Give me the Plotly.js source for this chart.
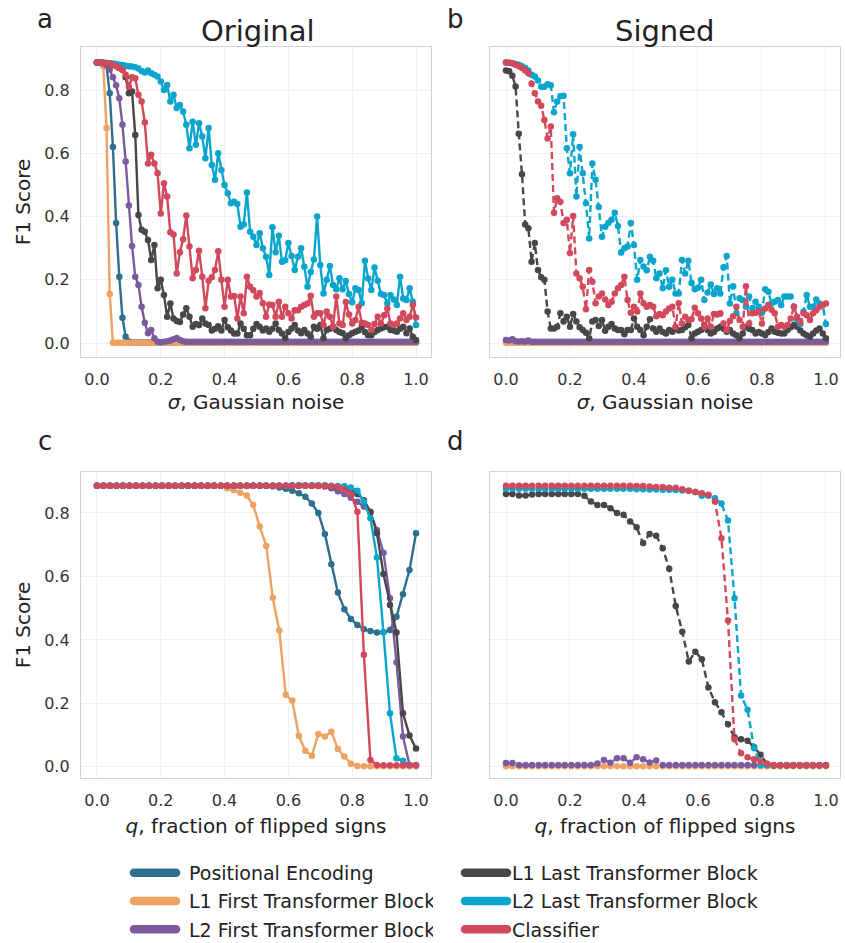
<!DOCTYPE html>
<html><head><meta charset="utf-8">
<script src="https://cdn.plot.ly/plotly-3.0.1.min.js"></script>
<style>html,body{margin:0;padding:0;background:#fff;} .infolayer path.js-line{stroke-linecap:round;}</style>
</head><body><div id="chart" style="width:845px;height:943px;"></div>
<script>
// ---------- DATA ----------
const sigma = [0,0.01,0.02,0.03,0.04,0.05,0.06,0.07,0.08,0.09,
0.1,0.11,0.12,0.13,0.14,0.15,0.16,0.17,0.18,0.19,
0.2,0.21,0.22,0.23,0.24,0.25,0.26,0.27,0.28,0.29,
0.3,0.31,0.32,0.33,0.34,0.35,0.36,0.37,0.38,0.39,
0.4,0.41,0.42,0.43,0.44,0.45,0.46,0.47,0.48,0.49,
0.5,0.51,0.52,0.53,0.54,0.55,0.56,0.57,0.58,0.59,
0.6,0.61,0.62,0.63,0.64,0.65,0.66,0.67,0.68,0.69,
0.7,0.71,0.72,0.73,0.74,0.75,0.76,0.77,0.78,0.79,
0.8,0.81,0.82,0.83,0.84,0.85,0.86,0.87,0.88,0.89,
0.9,0.91,0.92,0.93,0.94,0.95,0.96,0.97,0.98,0.99,1.0];

const qFrac = [0,0.0204,0.0408,0.0612,0.0816,0.102,0.1224,0.1429,0.1633,0.1837,
0.2041,0.2245,0.2449,0.2653,0.2857,0.3061,0.3265,0.3469,0.3673,0.3878,
0.4082,0.4286,0.449,0.4694,0.4898,0.5102,0.5306,0.551,0.5714,0.5918,
0.6122,0.6327,0.6531,0.6735,0.6939,0.7143,0.7347,0.7551,0.7755,0.7959,
0.8163,0.8367,0.8571,0.8776,0.898,0.9184,0.9388,0.9592,0.9796,1.0];

const seriesNames = ["Positional Encoding","L1 First Transformer Block","L2 First Transformer Block",
  "L1 Last Transformer Block","L2 Last Transformer Block","Classifier"];

// Panel a: Original, Gaussian noise
const origNoisePE = [0.887,0.887,0.886,0.875,0.79,0.62,0.38,0.21,0.08,0.02,
0.005,0.002,0.002,0.002,0.002,0.002,0.002,0.002,0.002,0.002,
0.002,0.002,0.002,0.002,0.002,0.002,0.002,0.002,0.002,0.002,
0.002,0.002,0.002,0.002,0.002,0.002,0.002,0.002,0.002,0.002,
0.002,0.002,0.002,0.002,0.002,0.002,0.002,0.002,0.002,0.002,
0.002,0.002,0.002,0.002,0.002,0.002,0.002,0.002,0.002,0.002,
0.002,0.002,0.002,0.002,0.002,0.002,0.002,0.002,0.002,0.002,
0.002,0.002,0.002,0.002,0.002,0.002,0.002,0.002,0.002,0.002,
0.002,0.002,0.002,0.002,0.002,0.002,0.002,0.002,0.002,0.002,
0.002,0.002,0.002,0.002,0.002,0.002,0.002,0.002,0.002,0.002,0.002];
const origNoiseL1First = [0.887,0.886,0.875,0.68,0.155,0.001,0.001,0.001,0.001,0.001,
0.001,0.001,0.001,0.001,0.001,0.001,0.001,0.001,0.001,0.001,
0.001,0.001,0.001,0.001,0.001,0.001,0.001,0.001,0.001,0.001,
0.001,0.001,0.001,0.001,0.001,0.001,0.001,0.001,0.001,0.001,
0.001,0.001,0.001,0.001,0.001,0.001,0.001,0.001,0.001,0.001,
0.001,0.001,0.001,0.001,0.001,0.001,0.001,0.001,0.001,0.001,
0.001,0.001,0.001,0.001,0.001,0.001,0.001,0.001,0.001,0.001,
0.001,0.001,0.001,0.001,0.001,0.001,0.001,0.001,0.001,0.001,
0.001,0.001,0.001,0.001,0.001,0.001,0.001,0.001,0.001,0.001,
0.001,0.001,0.001,0.001,0.001,0.001,0.001,0.001,0.001,0.001,0.001];
const origNoiseL2First = [0.887,0.886,0.884,0.878,0.865,0.84,0.815,0.774,0.69,0.574,
0.435,0.307,0.21,0.184,0.115,0.064,0.031,0.041,0.015,0.004,
0.003,0.004,0.006,0.008,0.012,0.016,0.01,0.006,0.004,0.004,
0.004,0.004,0.004,0.004,0.004,0.004,0.004,0.004,0.004,0.004,
0.004,0.004,0.004,0.004,0.004,0.004,0.004,0.004,0.004,0.004,
0.004,0.004,0.004,0.004,0.004,0.004,0.004,0.004,0.004,0.004,
0.004,0.004,0.004,0.004,0.004,0.004,0.004,0.004,0.004,0.004,
0.004,0.004,0.004,0.004,0.004,0.004,0.004,0.004,0.004,0.004,
0.004,0.004,0.004,0.004,0.004,0.004,0.004,0.004,0.004,0.004,
0.004,0.004,0.004,0.004,0.004,0.004,0.004,0.004,0.004,0.004,0.004];
const origNoiseL1Last = [0.887,0.887,0.886,0.885,0.883,0.88,0.876,0.87,0.864,0.84,
0.79,0.795,0.658,0.405,0.358,0.352,0.326,0.263,0.31,0.173,
0.2,0.152,0.083,0.125,0.078,0.07,0.067,0.09,0.11,0.083,
0.052,0.06,0.057,0.078,0.062,0.057,0.04,0.045,0.053,0.04,
0.073,0.05,0.04,0.03,0.03,0.062,0.045,0.025,0.025,0.045,
0.06,0.052,0.04,0.046,0.036,0.045,0.062,0.041,0.03,0.015,
0.035,0.046,0.057,0.04,0.031,0.041,0.03,0.02,0.052,0.045,
0.057,0.015,0.041,0.045,0.052,0.041,0.035,0.031,0.015,0.025,
0.031,0.036,0.04,0.052,0.035,0.025,0.025,0.035,0.041,0.046,
0.05,0.052,0.041,0.04,0.036,0.045,0.052,0.031,0.046,0.02,0.01];
const origNoiseL2Last = [0.887,0.887,0.886,0.886,0.885,0.884,0.882,0.88,0.879,0.877,
0.875,0.874,0.872,0.868,0.86,0.855,0.862,0.853,0.848,0.843,
0.827,0.8,0.816,0.764,0.785,0.743,0.753,0.732,0.69,0.616,
0.7,0.627,0.695,0.653,0.584,0.68,0.563,0.516,0.6,0.547,
0.5,0.474,0.442,0.447,0.44,0.368,0.375,0.476,0.352,0.336,
0.31,0.347,0.3,0.273,0.215,0.366,0.287,0.339,0.257,0.262,
0.316,0.275,0.231,0.273,0.3,0.241,0.178,0.225,0.264,0.4,
0.247,0.157,0.2,0.244,0.184,0.17,0.205,0.17,0.196,0.155,
0.129,0.173,0.168,0.126,0.26,0.204,0.168,0.239,0.197,0.155,
0.152,0.125,0.152,0.138,0.12,0.21,0.141,0.136,0.173,0.131,0.057];
const origNoiseClassifier = [0.887,0.887,0.886,0.885,0.884,0.88,0.875,0.87,0.864,0.848,
0.81,0.84,0.837,0.785,0.764,0.697,0.568,0.595,0.568,0.537,
0.41,0.505,0.463,0.35,0.343,0.22,0.287,0.328,0.403,0.305,
0.205,0.231,0.292,0.21,0.11,0.197,0.208,0.231,0.29,0.2,
0.115,0.2,0.147,0.149,0.078,0.147,0.094,0.21,0.178,0.167,
0.147,0.158,0.126,0.083,0.122,0.12,0.083,0.131,0.083,0.115,
0.094,0.078,0.104,0.104,0.115,0.12,0.125,0.15,0.083,0.094,
0.094,0.057,0.1,0.083,0.052,0.147,0.062,0.057,0.13,0.09,
0.062,0.073,0.115,0.064,0.062,0.057,0.041,0.06,0.083,0.062,
0.088,0.109,0.062,0.057,0.062,0.078,0.094,0.073,0.083,0.12,0.081];

// Panel b: Signed, Gaussian noise
const signNoiseL1First = [0.001,0.001,0.001,0.001,0.001,0.001,0.001,0.001,0.001,0.001,
0.001,0.001,0.001,0.001,0.001,0.001,0.001,0.001,0.001,0.001,
0.001,0.001,0.001,0.001,0.001,0.001,0.001,0.001,0.001,0.001,
0.001,0.001,0.001,0.001,0.001,0.001,0.001,0.001,0.001,0.001,
0.001,0.001,0.001,0.001,0.001,0.001,0.001,0.001,0.001,0.001,
0.001,0.001,0.001,0.001,0.001,0.001,0.001,0.001,0.001,0.001,
0.001,0.001,0.001,0.001,0.001,0.001,0.001,0.001,0.001,0.001,
0.001,0.001,0.001,0.001,0.001,0.001,0.001,0.001,0.001,0.001,
0.001,0.001,0.001,0.001,0.001,0.001,0.001,0.001,0.001,0.001,
0.001,0.001,0.001,0.001,0.001,0.001,0.001,0.001,0.001,0.001,0.001];
const signNoiseL2First = [0.01,0.008,0.012,0.006,0.005,0.006,0.005,0.008,0.004,0.004,
0.004,0.004,0.004,0.004,0.004,0.004,0.004,0.004,0.004,0.004,
0.004,0.004,0.004,0.004,0.004,0.004,0.004,0.004,0.004,0.004,
0.004,0.004,0.004,0.004,0.004,0.004,0.004,0.004,0.004,0.004,
0.004,0.004,0.004,0.004,0.004,0.004,0.004,0.004,0.004,0.004,
0.004,0.004,0.004,0.004,0.004,0.004,0.004,0.004,0.004,0.004,
0.004,0.004,0.004,0.004,0.004,0.004,0.004,0.004,0.004,0.004,
0.004,0.004,0.004,0.004,0.004,0.004,0.004,0.004,0.004,0.004,
0.004,0.004,0.004,0.004,0.004,0.004,0.004,0.004,0.004,0.004,
0.004,0.004,0.004,0.004,0.004,0.004,0.004,0.004,0.004,0.004,0.004];
const signNoiseL1Last = [0.862,0.859,0.845,0.811,0.662,0.534,0.375,0.363,0.257,0.316,
0.231,0.208,0.2,0.1,0.046,0.046,0.052,0.094,0.068,0.083,
0.052,0.092,0.068,0.05,0.041,0.033,0.015,0.068,0.073,0.054,
0.073,0.039,0.052,0.06,0.046,0.041,0.041,0.028,0.041,0.041,
0.078,0.052,0.041,0.025,0.052,0.075,0.046,0.036,0.046,0.035,
0.03,0.041,0.036,0.046,0.04,0.041,0.05,0.057,0.015,0.03,
0.036,0.041,0.057,0.041,0.03,0.035,0.046,0.052,0.045,0.036,
0.041,0.03,0.025,0.015,0.03,0.052,0.045,0.041,0.03,0.035,
0.03,0.025,0.035,0.046,0.036,0.033,0.03,0.03,0.041,0.05,
0.057,0.052,0.04,0.03,0.025,0.02,0.03,0.04,0.046,0.03,0.015];
const signNoiseL2Last = [0.887,0.886,0.885,0.882,0.88,0.875,0.87,0.862,0.848,0.843,
0.83,0.81,0.81,0.818,0.815,0.73,0.764,0.78,0.782,0.616,
0.537,0.66,0.463,0.62,0.537,0.442,0.331,0.568,0.516,0.43,
0.336,0.368,0.38,0.39,0.412,0.37,0.286,0.3,0.305,0.38,
0.31,0.2,0.263,0.242,0.23,0.273,0.26,0.205,0.22,0.173,
0.23,0.178,0.2,0.157,0.157,0.263,0.22,0.26,0.19,0.17,
0.175,0.2,0.136,0.16,0.185,0.155,0.173,0.157,0.24,0.275,
0.125,0.18,0.094,0.142,0.136,0.115,0.147,0.11,0.131,0.115,
0.096,0.17,0.162,0.125,0.131,0.136,0.12,0.147,0.147,0.147,
0.115,0.073,0.06,0.1,0.152,0.115,0.115,0.138,0.125,0.12,0.06];
const signNoiseClassifier = [0.887,0.886,0.885,0.88,0.875,0.87,0.862,0.853,0.82,0.79,
0.764,0.75,0.705,0.647,0.685,0.412,0.458,0.447,0.38,0.39,
0.284,0.402,0.22,0.205,0.178,0.107,0.231,0.194,0.126,0.147,
0.157,0.138,0.12,0.131,0.157,0.173,0.184,0.21,0.136,0.096,
0.115,0.1,0.157,0.126,0.115,0.12,0.115,0.085,0.092,0.088,
0.1,0.109,0.115,0.052,0.126,0.062,0.083,0.073,0.075,0.112,
0.094,0.078,0.052,0.078,0.052,0.092,0.09,0.094,0.062,0.041,
0.07,0.085,0.115,0.073,0.052,0.18,0.062,0.094,0.096,0.1,
0.062,0.109,0.12,0.105,0.094,0.052,0.057,0.052,0.057,0.078,
0.115,0.083,0.067,0.094,0.088,0.073,0.094,0.104,0.115,0.12,0.125];

// Panel c: Original, flipped signs
const origFlipPE = [0.886,0.886,0.886,0.886,0.886,0.886,0.886,0.886,0.886,0.886,
0.886,0.886,0.886,0.886,0.886,0.886,0.886,0.886,0.886,0.886,
0.886,0.886,0.886,0.886,0.886,0.886,0.886,0.884,0.88,0.876,
0.87,0.862,0.851,0.83,0.8,0.734,0.638,0.549,0.497,0.466,
0.447,0.434,0.428,0.423,0.424,0.431,0.473,0.544,0.62,0.736];
const origFlipL1First = [0.886,0.886,0.886,0.886,0.886,0.886,0.886,0.886,0.886,0.886,
0.886,0.886,0.886,0.886,0.886,0.886,0.886,0.886,0.886,0.886,
0.878,0.872,0.864,0.855,0.825,0.757,0.696,0.533,0.43,0.227,
0.209,0.098,0.051,0.035,0.104,0.096,0.111,0.056,0.033,0.01,
0.003,0.002,0.002,0.002,0.002,0.002,0.002,0.002,0.002,0.002];
const origFlipL2First = [0.886,0.886,0.886,0.886,0.886,0.886,0.886,0.886,0.886,0.886,
0.886,0.886,0.886,0.886,0.886,0.886,0.886,0.886,0.886,0.886,
0.886,0.886,0.886,0.886,0.886,0.886,0.886,0.886,0.886,0.886,
0.886,0.886,0.886,0.886,0.885,0.883,0.878,0.868,0.86,0.848,
0.835,0.82,0.8,0.746,0.675,0.531,0.33,0.096,0.006,0.005];
const origFlipL1Last = [0.886,0.886,0.886,0.886,0.886,0.886,0.886,0.886,0.886,0.886,
0.886,0.886,0.886,0.886,0.886,0.886,0.886,0.886,0.886,0.886,
0.886,0.886,0.886,0.886,0.886,0.886,0.886,0.886,0.886,0.886,
0.886,0.886,0.886,0.886,0.886,0.885,0.884,0.882,0.878,0.872,
0.86,0.84,0.804,0.736,0.608,0.51,0.423,0.169,0.099,0.058];
const origFlipL2Last = [0.886,0.886,0.886,0.886,0.886,0.886,0.886,0.886,0.886,0.886,
0.886,0.886,0.886,0.886,0.886,0.886,0.886,0.886,0.886,0.886,
0.886,0.886,0.886,0.886,0.886,0.886,0.886,0.886,0.886,0.886,
0.887,0.887,0.887,0.887,0.887,0.887,0.886,0.885,0.884,0.88,
0.87,0.836,0.783,0.66,0.424,0.169,0.027,0.019,0.006,0.006];
const origFlipClassifier = [0.886,0.886,0.886,0.886,0.886,0.886,0.886,0.886,0.886,0.886,
0.886,0.886,0.886,0.886,0.886,0.886,0.886,0.886,0.886,0.886,
0.886,0.886,0.886,0.886,0.886,0.886,0.886,0.886,0.886,0.886,
0.886,0.886,0.886,0.886,0.886,0.886,0.885,0.882,0.875,0.86,
0.804,0.353,0.022,0.006,0.005,0.005,0.005,0.005,0.005,0.005];

// Panel d: Signed, flipped signs
const signFlipL1First = [0.002,0.002,0.002,0.002,0.002,0.002,0.002,0.002,0.002,0.002,
0.002,0.002,0.002,0.002,0.002,0.002,0.002,0.002,0.002,0.002,
0.002,0.002,0.002,0.002,0.002,0.002,0.002,0.002,0.002,0.002,
0.002,0.002,0.002,0.002,0.002,0.002,0.002,0.002,0.002,0.002,
0.002,0.002,0.002,0.002,0.002,0.002,0.002,0.002,0.002,0.002];
const signFlipL2First = [0.012,0.012,0.006,0.006,0.006,0.006,0.006,0.006,0.006,0.006,
0.006,0.006,0.006,0.006,0.011,0.022,0.013,0.027,0.027,0.013,
0.03,0.024,0.014,0.02,0.006,0.006,0.006,0.006,0.006,0.006,
0.006,0.006,0.006,0.006,0.006,0.006,0.006,0.006,0.006,0.006,
0.006,0.006,0.006,0.006,0.006,0.006,0.006,0.006,0.006,0.006];
const signFlipL1Last = [0.86,0.86,0.855,0.855,0.858,0.86,0.86,0.86,0.86,0.86,
0.86,0.86,0.854,0.836,0.825,0.825,0.815,0.8,0.794,0.773,
0.755,0.705,0.734,0.728,0.689,0.624,0.507,0.426,0.332,0.363,
0.339,0.25,0.204,0.172,0.134,0.093,0.087,0.082,0.062,0.038,
0.009,0.005,0.005,0.005,0.005,0.005,0.005,0.005,0.005,0.005];
const signFlipL2Last = [0.876,0.876,0.876,0.876,0.876,0.876,0.876,0.876,0.876,0.876,
0.876,0.876,0.876,0.876,0.876,0.876,0.876,0.876,0.876,0.876,
0.875,0.875,0.874,0.874,0.873,0.873,0.872,0.871,0.87,0.866,
0.854,0.854,0.846,0.83,0.776,0.531,0.225,0.18,0.059,0.006,
0.005,0.005,0.005,0.005,0.005,0.005,0.005,0.005,0.005,0.005];
const signFlipClassifier = [0.886,0.886,0.886,0.886,0.886,0.886,0.886,0.886,0.886,0.886,
0.886,0.886,0.886,0.886,0.886,0.886,0.886,0.886,0.886,0.886,
0.885,0.885,0.883,0.882,0.882,0.879,0.879,0.875,0.87,0.866,
0.862,0.857,0.836,0.72,0.461,0.087,0.043,0.03,0.024,0.017,
0.01,0.005,0.005,0.005,0.005,0.005,0.005,0.005,0.005,0.005];

const xTickVals = [0,0.2,0.4,0.6,0.8,1.0];
const yTickVals = [0,0.2,0.4,0.6,0.8];

// ---------- STYLE ----------
const COL = {pe:'#2e6e8e', l1f:'#eea160', l2f:'#7c5a9e', l1l:'#474747', l2l:'#0aa5cd', cls:'#d1495b'};
const FONT = 'DejaVu Sans, Liberation Sans, sans-serif';
const W = 845, H = 943;
const px = (a,b) => [a/W, b/W];
const py = (top,bottom) => [1-bottom/H, 1-top/H];

function tr(x, y, color, xa, ya, dashed){
  return {type:'scatter', mode:'lines+markers', x:x, y:y, xaxis:xa, yaxis:ya,
    line:{color:color, width:2.4, dash: dashed ? '7px,4px' : 'solid'},
    marker:{color:color, size:6.5}, showlegend:false, hoverinfo:'skip'};
}
const data = [
  tr(sigma, origNoisePE, COL.pe, 'x','y'),
  tr(sigma, origNoiseL1First, COL.l1f, 'x','y'),
  tr(sigma, origNoiseL2First, COL.l2f, 'x','y'),
  tr(sigma, origNoiseL1Last, COL.l1l, 'x','y'),
  tr(sigma, origNoiseL2Last, COL.l2l, 'x','y'),
  tr(sigma, origNoiseClassifier, COL.cls, 'x','y'),
  tr(sigma, signNoiseL1First, COL.l1f, 'x2','y2', true),
  tr(sigma, signNoiseL2First, COL.l2f, 'x2','y2', true),
  tr(sigma, signNoiseL1Last, COL.l1l, 'x2','y2', true),
  tr(sigma, signNoiseL2Last, COL.l2l, 'x2','y2', true),
  tr(sigma, signNoiseClassifier, COL.cls, 'x2','y2', true),
  tr(qFrac, origFlipPE, COL.pe, 'x3','y3'),
  tr(qFrac, origFlipL1First, COL.l1f, 'x3','y3'),
  tr(qFrac, origFlipL2First, COL.l2f, 'x3','y3'),
  tr(qFrac, origFlipL1Last, COL.l1l, 'x3','y3'),
  tr(qFrac, origFlipL2Last, COL.l2l, 'x3','y3'),
  tr(qFrac, origFlipClassifier, COL.cls, 'x3','y3'),
  tr(qFrac, signFlipL1First, COL.l1f, 'x4','y4', true),
  tr(qFrac, signFlipL2First, COL.l2f, 'x4','y4', true),
  tr(qFrac, signFlipL1Last, COL.l1l, 'x4','y4', true),
  tr(qFrac, signFlipL2Last, COL.l2l, 'x4','y4', true),
  tr(qFrac, signFlipClassifier, COL.cls, 'x4','y4', true),
];
const legCols = [COL.pe, COL.l1f, COL.l2f, COL.l1l, COL.l2l, COL.cls];
seriesNames.forEach((n,i) => {
  data.push({type:'scatter', mode:'lines', x:[null], y:[null], name:n, xaxis:'x', yaxis:'y',
    line:{color:legCols[i], width:8.5}, showlegend:true, hoverinfo:'skip',
    legendgroup:'g'+i, legend: i < 3 ? 'legend' : 'legend2'});
});

const axBase = {
  showgrid:true, gridcolor:'#f1f1f1', gridwidth:1, zeroline:false,
  showline:true, mirror:true, linecolor:'#d3d3d3', linewidth:1.2,
  ticks:'outside', ticklen:7, tickcolor:'rgba(0,0,0,0)',
  tickfont:{family:FONT, size:16, color:'#333'}, tickformat:'.1f'
};
const xAxBase = Object.assign({}, axBase, {ticklen:8});
const xTitleA = {text:'<i>σ</i>, Gaussian noise', font:{family:FONT, size:20, color:'#222'}, standoff:6};
const xTitleC = {text:'<i>q</i>, fraction of flipped signs', font:{family:FONT, size:20, color:'#222'}, standoff:9};
const yTitle = {text:'F1 Score', font:{family:FONT, size:20, color:'#222'}, standoff:8};
const xr1 = [-0.05, 1.047], xr2 = [-0.05, 1.044];
const yrTop = [-0.044, 0.936], yrBot = [-0.035, 0.929];

const legFont = {family:FONT, size:19, color:'#222'};
const legBase = {y:1-854/H, xanchor:'left', yanchor:'top', orientation:'v', bgcolor:'rgba(0,0,0,0)',
    font:legFont, tracegroupgap:0.5, itemwidth:42};
const layout = {
  width:W, height:H, margin:{l:0,r:0,t:0,b:0, autoexpand:false},
  paper_bgcolor:'#fff', plot_bgcolor:'#fff',
  font:{family:FONT, color:'#222'},
  xaxis: Object.assign({}, xAxBase, {domain:px(81,431), anchor:'y', range:xr1, tickvals:xTickVals, title:xTitleA}),
  yaxis: Object.assign({}, axBase, {domain:py(47,357), anchor:'x', range:yrTop, tickvals:yTickVals, title:yTitle}),
  xaxis2: Object.assign({}, xAxBase, {domain:px(490,840), anchor:'y2', range:xr2, tickvals:xTickVals, title:xTitleA}),
  yaxis2: Object.assign({}, axBase, {domain:py(47,357), anchor:'x2', range:yrTop, tickvals:yTickVals, showticklabels:false}),
  xaxis3: Object.assign({}, xAxBase, {domain:px(81,431), anchor:'y3', range:xr1, tickvals:xTickVals, title:xTitleC}),
  yaxis3: Object.assign({}, axBase, {domain:py(472,778), anchor:'x3', range:yrBot, tickvals:yTickVals, title:yTitle}),
  xaxis4: Object.assign({}, xAxBase, {domain:px(490,840), anchor:'y4', range:xr2, tickvals:xTickVals, title:xTitleC}),
  yaxis4: Object.assign({}, axBase, {domain:py(472,778), anchor:'x4', range:yrBot, tickvals:yTickVals, showticklabels:false}),
  legend: Object.assign({}, legBase, {x:129/W}),
  legend2: Object.assign({}, legBase, {x:460/W}),
  annotations: [
    {text:'a', x:45/W, y:1-19/H, size:26},
    {text:'b', x:455/W, y:1-19/H, size:26},
    {text:'c', x:45/W, y:1-441/H, size:26},
    {text:'d', x:455/W, y:1-441/H, size:26},
    {text:'Original', x:257/W, y:1-31/H, size:29},
    {text:'Signed', x:665/W, y:1-31/H, size:29},
  ].map(a => ({xref:'paper', yref:'paper', xanchor:'center', yanchor:'middle', showarrow:false,
     text:a.text, x:a.x, y:a.y, font:{family:FONT, size:a.size, color:'#222'}}))
};

Plotly.newPlot('chart', data, layout, {staticPlot:true, displayModeBar:false}).then(() => {
  // add a little extra space between each legend swatch and its label
  document.querySelectorAll('#chart text.legendtext').forEach(t => {
    const x0 = parseFloat(t.getAttribute('x')) || 0;
    t.setAttribute('x', x0 + 8);
  });
});
</script>
</body></html>
